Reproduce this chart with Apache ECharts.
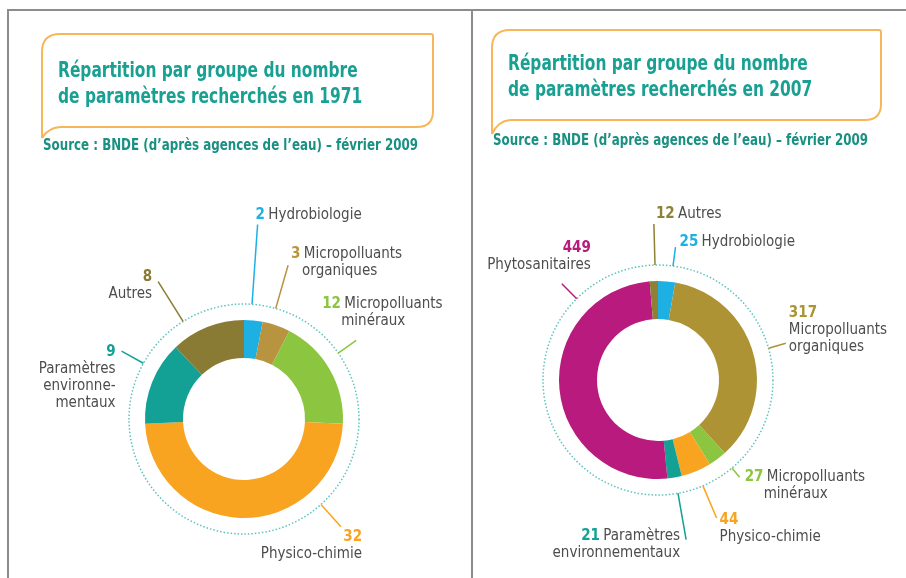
<!DOCTYPE html>
<html>
<head>
<meta charset="utf-8">
<script src="https://cdn.jsdelivr.net/npm/echarts@6/dist/echarts.min.js"></script>
<style>
html, body { margin: 0; padding: 0; background: #fff; }
#chart { width: 906px; height: 578px; }
</style>
</head>
<body>
<div id="chart"></div>
<script>
// données
var groups1971 = ['Hydrobiologie', 'Micropolluants organiques', 'Micropolluants minéraux', 'Physico-chimie', 'Paramètres environnementaux', 'Autres'];
var values1971 = [2, 3, 12, 32, 9, 8];
var labels1971 = ['Hydrobiologie', 'Micropolluants\norganiques', 'Micropolluants\nminéraux', 'Physico-chimie', 'Paramètres\nenvironne-\nmentaux', 'Autres'];

var groups2007 = ['Hydrobiologie', 'Micropolluants organiques', 'Micropolluants minéraux', 'Physico-chimie', 'Paramètres environnementaux', 'Phytosanitaires', 'Autres'];
var values2007 = [25, 317, 27, 44, 21, 449, 12];
var labels2007 = ['Hydrobiologie', 'Micropolluants\norganiques', 'Micropolluants\nminéraux', 'Physico-chimie', 'Paramètres\nenvironnementaux', 'Phytosanitaires', 'Autres'];

var title1971 = 'Répartition par groupe du nombre\nde paramètres recherchés en 1971';
var title2007 = 'Répartition par groupe du nombre\nde paramètres recherchés en 2007';
var sourceText = 'Source : BNDE (d’après agences de l’eau) – février 2009';

// couleurs
var colors1971 = ['#1fb0e3', '#b99440', '#8cc540', '#f8a420', '#14a195', '#8a7b34'];
var colors2007 = ['#1fb0e3', '#ad9334', '#8cc540', '#f8a420', '#14a195', '#b81a7e', '#8e8136'];

var FONT = "'Liberation Sans Narrow', 'DejaVu Sans Condensed', 'Roboto', sans-serif";
var TEAL = '#1aa092';
var C1 = [244, 419], C2 = [658, 380];
var R_DOT = 115;

// position des étiquettes : angle du trait (depuis midi, sens horaire), rayon de fin, décalage, alignement, mode
var leaders1971 = [
	{a: 4, r: 195, dx: -2, dy: -1, align: 'left', va: 'bottom', mode: 'inline'},
	{a: 16, r: 160, dx: 3, dy: -3, align: 'left', va: 'middle', mode: 'inline'},
	{a: 55, r: 137, dx: -34, dy: -28, align: 'left', va: 'middle', mode: 'inline'},
	{a: 138, r: 145, dx: 21, dy: 2, align: 'right', va: 'top', mode: 'stack'},
	{a: 299, r: 140, dx: -6, dy: -8, align: 'right', va: 'top', mode: 'stack'},
	{a: 328, r: 162, dx: -6, dy: -13, align: 'right', va: 'top', mode: 'stack'}
];
var leaders2007 = [
	{a: 7.5, r: 134, dx: 4, dy: 3, align: 'left', va: 'bottom', mode: 'inline'},
	{a: 74, r: 133, dx: 3, dy: -13, align: 'left', va: 'middle', mode: 'stack'},
	{a: 140, r: 127, dx: 5, dy: -9, align: 'left', va: 'top', mode: 'inline'},
	{a: 157, r: 150, dx: 3, dy: -6, align: 'left', va: 'top', mode: 'stack'},
	{a: 170, r: 162, dx: -6, dy: -12, align: 'right', va: 'top', mode: 'inline'},
	{a: 315, r: 136, dx: 29, dy: -10, align: 'right', va: 'bottom', mode: 'stack'},
	{a: 358.5, r: 156, dx: 2, dy: -1, align: 'left', va: 'bottom', mode: 'inline'}
];

function polar(c, a, r) {
	var rad = a * Math.PI / 180;
	return [c[0] + r * Math.sin(rad), c[1] - r * Math.cos(rad)];
}

function makeData(groups, values, colors) {
	var data = [];
	for (var i = 0; i < groups.length; i++) {
		data.push({
			name: groups[i],
			value: values[i],
			itemStyle: {color: colors[i]},
			label: {color: colors[i]}
		});
	}
	return data;
}

function makeFormatter(texts, leaders) {
	return function (p) {
		var lines = texts[p.dataIndex].split('\n');
		var l = leaders[p.dataIndex];
		var v = String(p.value);
		var out = [];
		if (l.mode == 'stack') {
			out.push('{n|' + v + '}');
			for (var i = 0; i < lines.length; i++) out.push('{t|' + lines[i] + '}');
		} else {
			out.push('{n|' + v + '} {t|' + lines[0] + '}');
			for (var j = 1; j < lines.length; j++) {
				out.push((l.align == 'left' ? '{i' + v.length + '| }' : '') + '{t|' + lines[j] + '}');
			}
		}
		return out.join('\n');
	};
}

function makeLayout(center, leaders) {
	return function (params) {
		var l = leaders[params.dataIndex];
		var p0 = polar(center, l.a, R_DOT);
		var p1 = polar(center, l.a, l.r);
		return {
			x: p1[0] + l.dx,
			y: p1[1] + l.dy,
			align: l.align,
			verticalAlign: l.va,
			labelLinePoints: [p0, p1, p1]
		};
	};
}

var richStyle = {
	n: {fontFamily: FONT, fontSize: 15, fontWeight: 'bold', lineHeight: 17},
	t: {fontFamily: FONT, fontSize: 15, color: '#4d4d4d', lineHeight: 17},
	i1: {width: 11, fontSize: 15, lineHeight: 17},
	i2: {width: 19, fontSize: 15, lineHeight: 17},
	i3: {width: 27, fontSize: 15, lineHeight: 17}
};

function pieSeries(center, groups, values, colors, texts, leaders) {
	return {
		type: 'pie',
		center: center,
		radius: [61, 99],
		startAngle: 90,
		clockwise: true,
		avoidLabelOverlap: false,
		silent: true,
		animation: false,
		itemStyle: {borderWidth: 0},
		label: {
			show: true,
			position: 'outside',
			formatter: makeFormatter(texts, leaders),
			rich: richStyle
		},
		labelLine: {show: true, smooth: false, lineStyle: {width: 1.5}},
		labelLayout: makeLayout(center, leaders),
		data: makeData(groups, values, colors)
	};
}

// cadre du titre (bulle)
function bubble(x1, y1, x2, y2, tipY) {
	var st = {stroke: '#f6b75a', lineWidth: 2, fill: 'none'};
	function ln(a, b, c, d) { return {type: 'line', shape: {x1: a, y1: b, x2: c, y2: d}, style: st}; }
	function bz(a, b, cx, cy, c, d) { return {type: 'bezierCurve', shape: {x1: a, y1: b, cpx1: cx, cpy1: cy, x2: c, y2: d}, style: st}; }
	return [
		ln(x1, tipY, x1, y1 + 18),
		bz(x1, y1 + 18, x1, y1, x1 + 18, y1),
		ln(x1 + 18, y1, x2 - 2, y1),
		bz(x2 - 2, y1, x2, y1, x2, y1 + 2),
		ln(x2, y1 + 2, x2, y2 - 16),
		bz(x2, y2 - 16, x2, y2, x2 - 16, y2),
		ln(x2 - 16, y2, x1 + 18, y2),
		bz(x1 + 18, y2, x1 + 6, y2 + 1, x1, tipY)
	];
}

function titleText(x, y, text, sy) {
	return [{
		type: 'text', x: x, y: y, scaleX: 0.78,
		style: {text: text, fill: TEAL, font: 'bold 22px ' + FONT, lineHeight: 26, verticalAlign: 'top'}
	}, {
		type: 'text', x: x - 15, y: sy, scaleX: 0.88,
		style: {text: sourceText, fill: '#1a9083', font: 'bold 15px ' + FONT, verticalAlign: 'middle'}
	}];
}

var myChart = echarts.init(document.getElementById('chart'));
var graphics = [
	{type: 'line', shape: {x1: 7, y1: 10, x2: 906, y2: 10}, style: {stroke: '#8c8c8c', lineWidth: 2}},
	{type: 'line', shape: {x1: 8, y1: 10, x2: 8, y2: 578}, style: {stroke: '#8c8c8c', lineWidth: 2}},
	{type: 'line', shape: {x1: 472, y1: 10, x2: 472, y2: 578}, style: {stroke: '#8c8c8c', lineWidth: 2}},
	{type: 'circle', shape: {cx: C1[0], cy: C1[1], r: R_DOT}, style: {fill: 'none', stroke: '#5cc3bf', lineWidth: 1.5, lineDash: [1.5, 2]}},
	{type: 'circle', shape: {cx: C2[0], cy: C2[1], r: R_DOT}, style: {fill: 'none', stroke: '#5cc3bf', lineWidth: 1.5, lineDash: [1.5, 2]}}
];
graphics = graphics.concat(bubble(42, 34, 433, 127, 138), bubble(492, 30, 881, 120, 134));
graphics = graphics.concat(titleText(58, 58, title1971, 146), titleText(508, 51, title2007, 141));

var option = {
	backgroundColor: '#ffffff',
	animation: false,
	graphic: graphics,
	series: [
		pieSeries(C1, groups1971, values1971, colors1971, labels1971, leaders1971),
		pieSeries(C2, groups2007, values2007, colors2007, labels2007, leaders2007)
	]
};
myChart.setOption(option);

window.onresize = function () {
	myChart.resize();
};
</script>
</body>
</html>
